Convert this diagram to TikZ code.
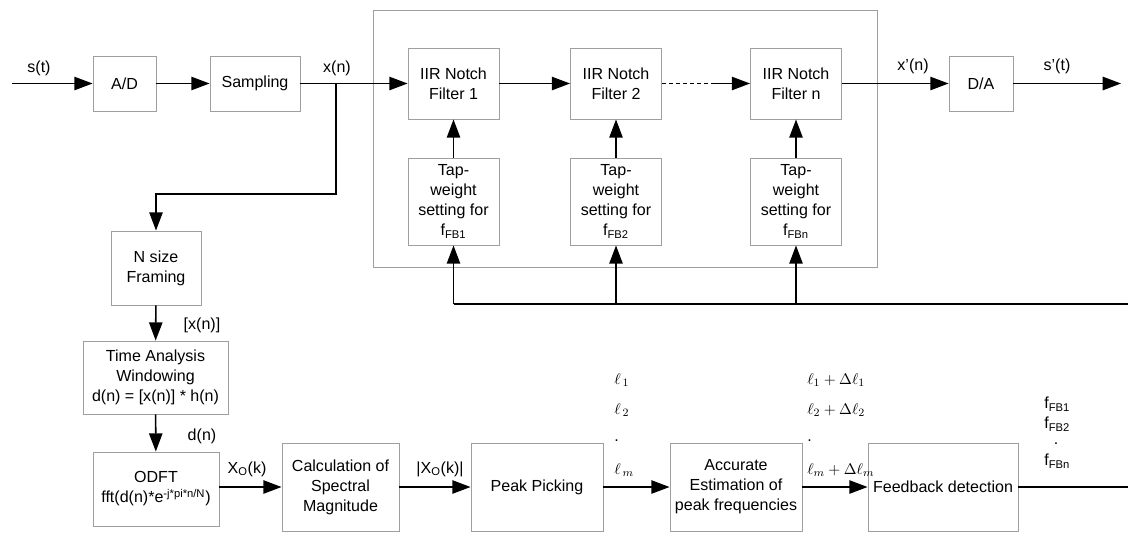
\documentclass[tikz,border=0pt]{standalone}
\usepackage{fontspec}
\setmainfont{Liberation Sans}
\usetikzlibrary{calc, arrows.meta}

\begin{document}
\begin{tikzpicture}[
        x=0.025cm, y=-0.025cm,
        font=\fontsize{11.4}{14.2}\selectfont,
        block/.style={rectangle, draw=gray!75, line width=0.6pt, align=center, inner sep=1pt, minimum height=1.375cm},
        sig/.style={line width=1.1pt, black},
        arr/.style={sig, -{Triangle[length=13pt, width=9.5pt]}},
        lbl/.style={inner sep=0pt, align=left},
        dot/.style={inner sep=0pt, text height=1.5pt, text depth=0pt}
    ]
        \useasboundingbox (0,0) rectangle (1128,534);

        % Top chain
        \node[block, minimum width=1.575cm] (AD) at (124.5,83.5) {A/D};
        \node[block, minimum width=2.25cm] (SAMP) at (255,83.5) {Sampling};
        \draw[gray!75, line width=0.6pt] (373,10) rectangle (877,267);
        \node[block, minimum width=2.275cm, minimum height=1.775cm] (F1) at (453.5,83.5) {IIR Notch\\Filter 1};
        \node[block, minimum width=2.275cm, minimum height=1.775cm] (F2) at (616,83.5) {IIR Notch\\Filter 2};
        \node[block, minimum width=2.275cm, minimum height=1.775cm] (FN) at (796,83.5) {IIR Notch\\Filter n};
        \node[block, minimum width=2.275cm, minimum height=2.175cm] (T1) at (453.5,201.5) {Tap-\\weight\\setting for\\f\textsubscript{FB1}};
        \node[block, minimum width=2.275cm, minimum height=2.175cm] (T2) at (616,201.5) {Tap-\\weight\\setting for\\f\textsubscript{FB2}};
        \node[block, minimum width=2.275cm, minimum height=2.175cm] (TN) at (796,201.5) {Tap-\\weight\\setting for\\f\textsubscript{FBn}};
        \node[block, minimum width=1.6cm] (DA) at (981,83.5) {D/A};

        \coordinate (IN) at (12,83.5);
        \coordinate (OUT) at (1121,83.5);
        \coordinate (XN) at (336,83.5);
        \coordinate (BR) at (336,194);
        \coordinate (DSH) at (715,83.5);
        \coordinate (FBR) at (1128,304);

        \draw[arr] (IN) -- (AD);
        \draw[arr] (AD) -- (SAMP);
        \draw[arr] (SAMP) -- (F1);
        \draw[arr] (F1) -- (F2);
        \draw[sig, densely dashed] (F2) -- (DSH);
        \draw[arr] (DSH) -- (FN);
        \draw[arr] (FN) -- (DA);
        \draw[arr] (DA) -- (OUT);
        \draw[arr] (T1) -- (F1);
        \draw[arr] (T2) -- (F2);
        \draw[arr] (TN) -- (FN);

        \node[lbl] (ST) at (39,68) {s(t)};
        \node[lbl] (XNL) at (337,68) {x(n)};
        \node[lbl] (XPN) at (913,66) {x'(n)};
        \node[lbl] (SPT) at (1057,66) {s'(t)};

        % Feedback to the tap-weight blocks
        \draw[sig] (FBR) -- (T1.south |- FBR);
        \foreach \t in {T1,T2,TN}
            \draw[arr] (\t.south |- FBR) -- (\t.south);

        % Analysis chain
        \node[block, minimum width=2.25cm, minimum height=1.85cm] (NSF) at (156,268) {N size\\Framing};
        \node[block, minimum width=3.625cm, minimum height=1.825cm] (TAW) at (155.5,377.5) {Time Analysis\\Windowing\\d(n) = [x(n)] * h(n)};
        \node[block, minimum width=3.15cm, minimum height=1.85cm] (ODFT) at (156,489) {ODFT\\fft(d(n)*e\textsuperscript{-j*pi*n/N})};
        \node[block, minimum width=2.925cm, minimum height=2.2cm] (CALC) at (340.5,487) {Calculation of\\Spectral\\Magnitude};
        \node[block, minimum width=3.3cm, minimum height=2.2cm] (PEAK) at (537,487) {Peak Picking};
        \node[block, minimum width=3.3cm, minimum height=2.2cm] (ACC) at (736,487) {Accurate\\Estimation of\\peak frequencies};
        \node[block, minimum width=3.75cm, minimum height=2.2cm] (FBD) at (943,487) {Feedback detection};
        \coordinate (FBOUT) at (1128,487);

        \draw[arr] (XN) -- (BR) -| (NSF.north);
        \draw[arr] (NSF) -- (TAW);
        \draw[arr] (TAW) -- (ODFT);
        \draw[arr] (ODFT.east |- CALC) -- (CALC);
        \draw[arr] (CALC) -- (PEAK);
        \draw[arr] (PEAK) -- (ACC);
        \draw[arr] (ACC) -- (FBD);
        \draw[sig] (FBD) -- (FBOUT);

        \node[lbl] (XL) at (202,325) {[x(n)]};
        \node[lbl] (DL) at (202,436) {d(n)};
        \node[lbl] (XOL) at (247,469) {X\textsubscript{O}(k)};
        \node[lbl] (AXOL) at (440,469) {|X\textsubscript{O}(k)|};

        % Peak lists
        \node[lbl, anchor=west] (L1) at (614,380) {$\ell_{\,1}$};
        \node[lbl, anchor=west] (L2) at (614,410) {$\ell_{\,2}$};
        \node[dot, anchor=west] (LD) at (614,440) {.};
        \node[lbl, anchor=west] (LM) at (614,470) {$\ell_{\,m}$};
        \node[lbl, anchor=west] (E1) at (807,380) {$\ell_1+\Delta\ell_1$};
        \node[lbl, anchor=west] (E2) at (807,410) {$\ell_2+\Delta\ell_2$};
        \node[dot, anchor=west] (ED) at (807,440) {.};
        \node[lbl, anchor=west] (EM) at (807,470) {$\ell_m+\Delta\ell_m$};
        \node[lbl, anchor=west] (FF1) at (1044,404) {f\textsubscript{FB1}};
        \node[lbl, anchor=west] (FF2) at (1044,424) {f\textsubscript{FB2}};
        \node[dot] (FFD) at (1056,443) {.};
        \node[lbl, anchor=west] (FFN) at (1044,461) {f\textsubscript{FBn}};
    \end{tikzpicture}
\end{document}
